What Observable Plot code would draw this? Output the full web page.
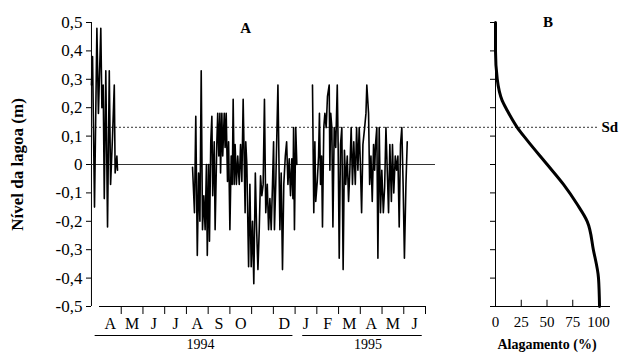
<!DOCTYPE html>
<html><head><meta charset="utf-8">
<script src="https://cdn.jsdelivr.net/npm/d3@7"></script>
<script src="https://cdn.jsdelivr.net/npm/@observablehq/plot@0.6"></script>
<style>
body{margin:0;background:#fff}
#chart{position:relative;width:620px;height:353px;background:#fff}
#chart svg{position:absolute;left:0;top:0;}
</style></head><body><div id="chart"></div>
<script>
// ---- Panel A: lagoon level time series (x = months since 1 April 1994) ----
const seg1Month = [-0.37, -0.32, -0.23, -0.12, -0.05, 0.06, 0.11, 0.17, 0.22, 0.29, 0.37, 0.45, 0.51, 0.60, 0.68, 0.72, 0.80, 0.83];
const seg1Level = [0.28, 0.38, -0.15, 0.48, 0.18, 0.48, 0.20, 0.28, -0.12, 0.33, -0.22, 0.33, -0.07, 0.10, 0.28, -0.03, 0.03, -0.02];

const seg2Month = [4.28, 4.37, 4.43, 4.50, 4.56, 4.62, 4.68, 4.74, 4.80, 4.86, 4.92, 4.96, 5.02, 5.06, 5.12, 5.17, 5.21, 5.28, 5.32, 5.40, 5.44, 5.49, 5.54, 5.57, 5.63, 5.67, 5.74, 5.78, 5.83, 5.89, 5.94, 6.00, 6.06, 6.11, 6.15, 6.20, 6.24, 6.30, 6.36, 6.43, 6.49, 6.55, 6.61, 6.70, 6.73, 6.78, 6.86, 6.92, 6.98, 7.04, 7.10, 7.17, 7.23, 7.29, 7.35, 7.41, 7.47, 7.53, 7.59, 7.65, 7.72, 7.78, 7.84, 7.90, 7.96, 8.01, 8.05, 8.11, 8.21, 8.30, 8.36, 8.42, 8.48, 8.55, 8.61, 8.67, 8.73, 8.79, 8.85, 8.90, 8.93, 8.97, 9.03, 9.08];
const seg2Level = [-0.01, -0.17, 0.17, -0.32, -0.03, -0.20, 0.33, -0.23, -0.11, -0.23, 0.00, -0.32, 0.00, -0.27, 0.08, 0.17, -0.11, 0.08, -0.23, 0.08, 0.18, 0.03, 0.18, -0.03, 0.18, 0.03, 0.18, 0.06, 0.18, -0.06, 0.08, -0.23, 0.03, -0.07, 0.23, -0.07, 0.07, -0.07, 0.03, -0.07, 0.07, -0.06, 0.23, -0.17, 0.08, 0.00, -0.36, -0.07, -0.36, -0.20, -0.42, -0.03, -0.23, -0.37, -0.23, -0.04, -0.11, -0.07, 0.23, -0.17, -0.07, -0.23, -0.12, -0.23, -0.07, 0.08, -0.23, -0.07, 0.28, -0.23, -0.03, -0.37, -0.07, 0.03, 0.08, -0.07, 0.02, -0.11, 0.02, -0.12, 0.13, -0.23, 0.13, 0.00];

const seg3Month = [9.80, 9.86, 9.91, 9.95, 10.02, 10.08, 10.12, 10.17, 10.22, 10.26, 10.32, 10.37, 10.43, 10.49, 10.57, 10.60, 10.64, 10.69, 10.74, 10.80, 10.87, 10.94, 10.98, 11.03, 11.09, 11.15, 11.21, 11.27, 11.33, 11.40, 11.46, 11.52, 11.58, 11.64, 11.70, 11.77, 11.83, 11.89, 11.95, 12.00, 12.06, 12.12, 12.20, 12.26, 12.30, 12.38, 12.43, 12.49, 12.55, 12.61, 12.66, 12.70, 12.76, 12.81, 12.87, 12.93, 12.99, 13.06, 13.12, 13.18, 13.24, 13.30, 13.36, 13.43, 13.48, 13.54, 13.61, 13.67, 13.73, 13.79, 13.85, 13.91, 13.97, 14.03, 14.10, 14.16];
const seg3Level = [0.28, -0.17, 0.08, -0.13, -0.06, 0.03, 0.18, -0.07, 0.03, -0.22, 0.13, 0.18, 0.13, 0.24, 0.28, -0.02, 0.18, 0.13, -0.22, 0.13, 0.06, 0.28, 0.07, -0.33, 0.07, 0.13, -0.37, 0.05, -0.07, 0.03, -0.13, -0.02, 0.13, -0.07, 0.08, -0.07, 0.13, -0.02, 0.13, 0.01, -0.17, 0.07, 0.13, 0.18, 0.28, 0.18, -0.07, 0.03, -0.13, 0.07, -0.02, 0.07, 0.13, -0.33, 0.13, -0.17, -0.02, -0.17, -0.08, 0.13, -0.02, -0.17, 0.07, -0.13, 0.07, -0.10, 0.03, -0.02, 0.03, -0.22, 0.07, 0.13, -0.07, -0.33, -0.07, 0.08];

const yTicks = [-0.5, -0.4, -0.3, -0.2, -0.1, 0, 0.1, 0.2, 0.3, 0.4, 0.5];
const monthLabels = ["A", "M", "J", "J", "A", "S", "O", "", "D", "J", "F", "M", "A", "M", "J"];
const monthBounds = [1, 2, 3, 4, 5, 6, 7, 8, 9, 10, 11, 12, 13, 14, 15];
const years = ["1994", "1995"];
const yearFrom = [-0.2, 9.35];
const yearTo = [8.9, 14.85];
const yearLabelX = [4.65, 12.35];
const sdLevel = 0.131;
const zeroSpan = [-0.37, 15.46];
const titleA = ["A", 6.72, 0.48];

// ---- Panel B: flooding (%) vs lagoon level ----
const floodPct   = [0, 0, 1.7, 6.5, 11.4, 21, 30.8, 50.2, 66, 79.3, 89, 95, 100, 101];
const floodLevel = [0.5, 0.4, 0.3, 0.225, 0.19, 0.131, 0.085, 0.0, -0.07, -0.14, -0.2, -0.3, -0.4, -0.5];
const pctTicks = [0, 25, 50, 75, 100];
const titleB = ["B", 51, 0.5];

const series = [];
[[seg1Month, seg1Level], [seg2Month, seg2Level], [seg3Month, seg3Level]].forEach(([ms, ls], s) => {
  ms.forEach((m, i) => series.push({seg: s, m, v: ls[i]}));
});
const curveData = floodPct.map((p, i) => ({p, v: floodLevel[i]}));

const fmt = d => String(d).replace(".", ",");
const font = "'Liberation Serif', 'Times New Roman', serif";
const style = {background: "transparent", fontFamily: font, fontSize: "15px", color: "#000"};

const plotA = Plot.plot({
  width: 620, height: 353,
  marginTop: 22, marginBottom: 47, marginLeft: 91, marginRight: 22,
  style,
  x: {domain: [0, 15], range: [99, 425], axis: null},
  y: {domain: [-0.5, 0.5], axis: null},
  marks: [
    Plot.ruleX([zeroSpan[0]], {stroke: "#000"}),
    Plot.axisY(yTicks, {tickFormat: fmt, tickSize: 5, tickPadding: 4, fontSize: 17, label: null}),
    Plot.ruleY([0], {x1: zeroSpan[0], x2: zeroSpan[1], stroke: "#333", strokeWidth: 1}),
    Plot.ruleY([sdLevel], {stroke: "#333", strokeDasharray: "2,2", strokeWidth: 1}),
    Plot.line(series, {x: "m", y: "v", z: "seg", stroke: "#000", strokeWidth: 1.6}),
    Plot.ruleY([-0.5], {x1: 0, x2: 15, stroke: "#000"}),
    Plot.axisX(monthBounds, {tickSize: 8, tickFormat: () => "", label: null}),
    Plot.text(monthLabels, {x: (d, i) => i + 0.5, y: -0.5, dy: 17, text: d => d, fontSize: 16}),
    Plot.ruleY(years, {y: -0.5, x1: (d, i) => yearFrom[i], x2: (d, i) => yearTo[i], dy: 29, stroke: "#000"}),
    Plot.text(years, {x: (d, i) => yearLabelX[i], y: -0.5, dy: 38, text: d => d, fontSize: 14}),
    Plot.text(["Nível da lagoa (m)"], {frameAnchor: "left", dx: -74, rotate: -90, textAnchor: "middle", fontWeight: "bold", fontSize: 17}),
    Plot.text([titleA[0]], {x: titleA[1], y: titleA[2], fontWeight: "bold", fontSize: 15}),
    Plot.text(["Sd"], {y: sdLevel, frameAnchor: "right", dx: 3, textAnchor: "start", fontWeight: "bold", fontSize: 15})
  ]
});

const plotB = Plot.plot({
  width: 620, height: 353,
  marginTop: 22, marginBottom: 47, marginLeft: 495, marginRight: 10,
  style,
  x: {domain: [0, 100], range: [495, 598], ticks: pctTicks, tickSize: 0, tickPadding: 10, label: null},
  y: {domain: [-0.5, 0.5], ticks: yTicks, tickFormat: () => "", tickSize: 5, label: null},
  marks: [
    Plot.ruleX([0], {stroke: "#000"}),
    Plot.ruleY([-0.5], {stroke: "#000"}),
    Plot.ruleX(pctTicks, {y1: -0.5, y2: -0.478, stroke: "#000"}),
    Plot.line(curveData, {x: "p", y: "v", stroke: "#000", strokeWidth: 3, curve: "monotone-y"}),
    Plot.text([titleB[0]], {x: titleB[1], y: titleB[2], fontWeight: "bold", fontSize: 15}),
    Plot.text(["Alagamento (%)"], {x: 50, frameAnchor: "bottom", dy: 42, fontWeight: "bold", fontSize: 14})
  ]
});

const chart = document.getElementById("chart");
chart.appendChild(plotA);
chart.appendChild(plotB);
</script></body></html>
